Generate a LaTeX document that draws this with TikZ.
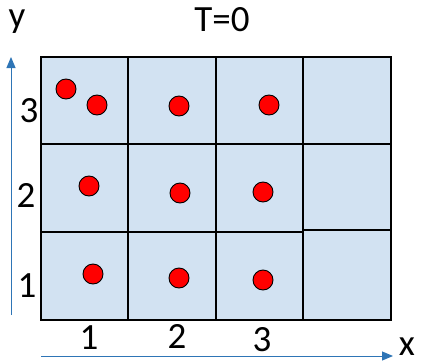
\documentclass[tikz,border=0pt]{standalone}
\usepackage{fontspec}
\setmainfont{Carlito}
\usetikzlibrary{arrows.meta}
\definecolor{cellblue}{HTML}{D2E2F2}
\definecolor{axisblue}{HTML}{2E75B6}
\definecolor{dotred}{HTML}{FF0000}
\begin{document}
\begin{tikzpicture}[x=1pt, y=-1pt, font=\fontsize{37}{40}\selectfont,
    every node/.style={inner sep=0pt},
    cell/.style={fill=cellblue, draw=black, line width=1.5pt},
    dot/.style={circle, fill=dotred, draw=black, line width=0.9pt, inner sep=0pt, minimum size=20pt},
    axis/.style={draw=axisblue, line width=1pt, -{Triangle[length=11pt, width=9pt]}}]
  \useasboundingbox (0,0) rectangle (423,364);
  % grid cells
  \foreach \xa/\xb in {41/128, 128/216, 216/303}
    \foreach \ya/\yb in {57/144, 144/232, 232/320}
      \draw[cell] (\xa,\ya) rectangle (\xb,\yb);
  \foreach \ya/\yb in {57/144, 144/230, 230/320}
    \draw[cell] (303,\ya) rectangle (391,\yb);
  % particles
  \foreach \px/\py [count=\k] in {66/89, 97/105, 179/106, 269/105,
      89/186, 180/193, 263/192, 93/274, 179/278, 263/280}
    \node[dot] (p\k) at (\px,\py) {};
  % axes
  \coordinate (yfoot) at (11,315);
  \coordinate (ytip) at (11,57);
  \coordinate (xfoot) at (41,356);
  \coordinate (xtip) at (393,356);
  \draw[axis] (yfoot) -- (ytip);
  \draw[axis] (xfoot) -- (xtip);
  \node (ylab) at (17,22) {y};
  \node (xlab) at (407,347) {x};
  \node (title) at (222,20) {T=0};
  \node (row3) at (29,111) {3};
  \node (row2) at (26,195) {2};
  \node (row1) at (27,286) {1};
  \node (col1) at (89,338) {1};
  \node (col2) at (177,336) {2};
  \node (col3) at (262,340) {3};
\end{tikzpicture}
\end{document}
